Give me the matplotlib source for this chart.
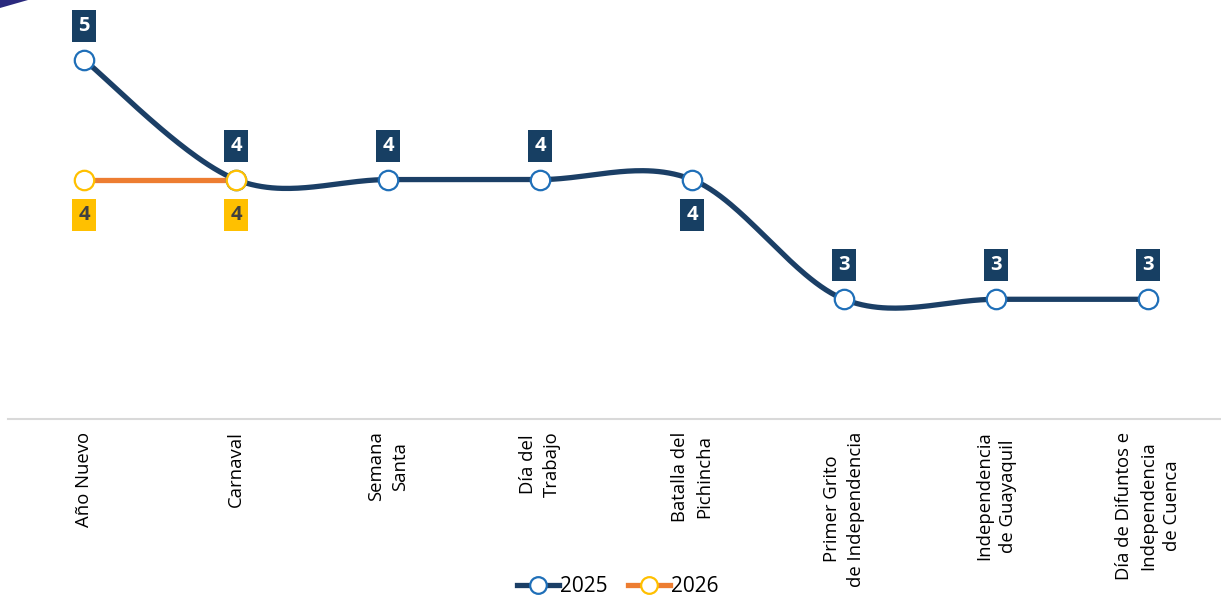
import numpy as np
import matplotlib
matplotlib.use("Agg")
import matplotlib.pyplot as plt
from matplotlib.lines import Line2D
from matplotlib.patches import Polygon

plt.rcParams['font.family'] = ['Open Sans', 'DejaVu Sans']

categories = ["Año Nuevo", "Carnaval", "Semana\nSanta", "Día del\nTrabajo",
              "Batalla del\nPichincha", "Primer Grito\nde Independencia",
              "Independencia\nde Guayaquil", "Día de Difuntos e\nIndependencia\nde Cuenca"]
values_2025 = [5, 4, 4, 4, 4, 3, 3, 3]
values_2026 = [4, 4]
labels_below_2025 = [False, False, False, False, True, False, False, False]

C_LINE25 = "#1B3F66"
C_BOX25 = "#173F63"
C_MARK25 = "#1F6FB8"
C_LINE26 = "#ED7D31"
C_MARK26 = "#FFC000"

W, H = 1221, 597
fig = plt.figure(figsize=(W / 100, H / 100), dpi=100)
ax = fig.add_axes([8 / W, (H - 419) / H, 1216 / W, 419 / H])
ax.set_xlim(-0.5, len(categories) - 0.5)
ax.set_ylim(2, 5.5)


def smooth(xs, ys, n=60):
    P = np.column_stack([xs, ys]).astype(float)
    out = []
    for i in range(len(P) - 1):
        p0 = P[max(i - 1, 0)]
        p1 = P[i]
        p2 = P[i + 1]
        p3 = P[min(i + 2, len(P) - 1)]
        b1 = p1 + (p2 - p0) / 6
        b2 = p2 - (p3 - p1) / 6
        t = np.linspace(0, 1, n)[:, None]
        seg = ((1 - t) ** 3) * p1 + 3 * ((1 - t) ** 2) * t * b1 + 3 * (1 - t) * t ** 2 * b2 + t ** 3 * p2
        out.append(seg if i == 0 else seg[1:])
    s = np.vstack(out)
    return s[:, 0], s[:, 1]


x25 = np.arange(len(values_2025))
x26 = np.arange(len(values_2026))
sx, sy = smooth(x25, values_2025)
ax.plot(sx, sy, color=C_LINE25, lw=3.8, solid_capstyle='round', zorder=2, clip_on=False)
ax.plot(x26, values_2026, color=C_LINE26, lw=3.8, zorder=2, clip_on=False)
ax.plot(x25, values_2025, linestyle='none', marker='o', ms=14, mfc='white',
        mec=C_MARK25, mew=1.6, zorder=4, clip_on=False)
ax.plot(x26, values_2026, linestyle='none', marker='o', ms=14, mfc='white',
        mec=C_MARK26, mew=1.6, zorder=5, clip_on=False)

for x, v, below in zip(x25, values_2025, labels_below_2025):
    ax.annotate(str(v), (x, v), xytext=(0, -35 if below else 34), textcoords='offset pixels',
                ha='center', va='center', fontsize=14.5, fontweight='bold', color='white',
                bbox=dict(boxstyle='square,pad=0.3', fc=C_BOX25, ec='none'), zorder=6)
for x, v in zip(x26, values_2026):
    ax.annotate(str(v), (x, v), xytext=(0, -35), textcoords='offset pixels',
                ha='center', va='center', fontsize=14.5, fontweight='bold', color='#404040',
                bbox=dict(boxstyle='square,pad=0.3', fc=C_MARK26, ec='none'), zorder=6)

for s in ['top', 'right', 'left']:
    ax.spines[s].set_visible(False)
ax.spines['bottom'].set_color('#D9D9D9')
ax.spines['bottom'].set_linewidth(1.5)
ax.set_yticks([])
ax.set_xticks(x25)
ax.set_xticklabels(categories, rotation=90, ha='center', va='top',
                   multialignment='center', fontsize=13.3, color='black', linespacing=1.42)
ax.tick_params(axis='x', length=0, pad=9)

handles = [
    Line2D([], [], color=C_LINE25, lw=3.8, marker='o', ms=12, mfc='white', mec=C_MARK25, mew=1.6),
    Line2D([], [], color=C_LINE26, lw=3.8, marker='o', ms=12, mfc='white', mec=C_MARK26, mew=1.6),
]
fig.legend(handles, ['2025', '2026'], loc='center', bbox_to_anchor=(618 / W, 1 - 587 / H),
           ncol=2, frameon=False, fontsize=15, handlelength=2.0, handletextpad=0.05,
           columnspacing=1.0, borderpad=0)

fig.patches.append(Polygon([[0, 1], [28 / W, 1], [0, 1 - 8 / H]], closed=True,
                           transform=fig.transFigure, fc='#2B2A7E', ec='none'))

fig.savefig('out.png', dpi=100)
